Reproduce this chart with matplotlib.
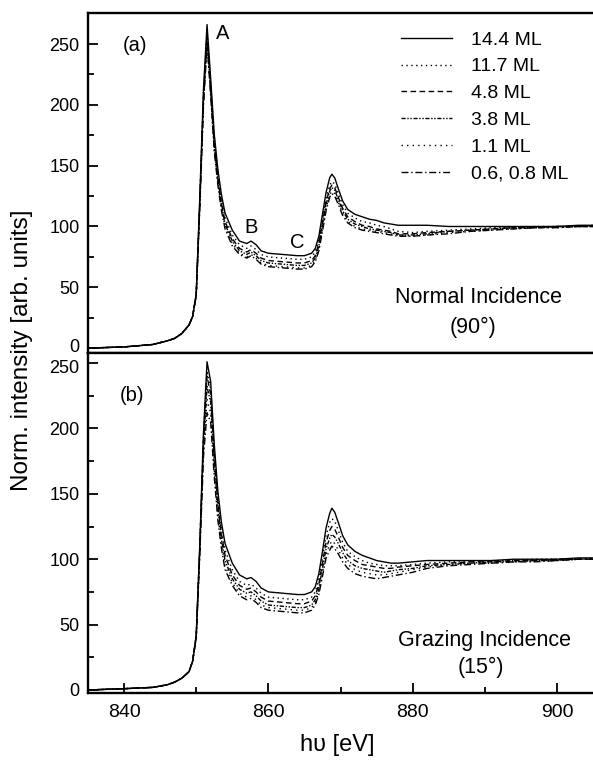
import matplotlib
matplotlib.use("Agg")
import matplotlib.pyplot as plt
from matplotlib.transforms import ScaledTranslation

plt.rcParams["font.family"] = ["Liberation Sans", "DejaVu Sans"]

# photon energy grid [eV]
energy = [835, 840, 844, 846, 847, 848, 849, 849.5, 850, 850.5,
          851, 851.5, 852, 852.5, 853, 853.5, 854, 855, 856, 857,
          857.6, 858.3, 859, 860, 862, 864, 865, 866, 866.5, 867,
          867.5, 868, 868.5, 868.8, 869.2, 869.7, 870.3, 871, 872, 873,
          874, 875, 876, 877, 878, 880, 882, 885, 888, 891,
          894, 897, 900, 903, 905]

labels = ["14.4 ML", "11.7 ML", "4.8 ML", "3.8 ML", "1.1 ML", "0.6, 0.8 ML"]

# (a) normal incidence
a_144 = [0, 1, 3, 6, 8, 12, 19, 26, 45, 125, 212, 266, 222, 176, 147, 126, 111, 97, 88, 86,
         88, 85, 80, 78, 77, 76, 76, 78, 82, 92, 110, 128, 140, 143, 140, 131, 121, 114, 110, 108,
         106, 105, 103, 102, 101, 101, 101, 100, 100, 100, 100, 100, 100, 101, 101]
a_117 = [0, 1, 3, 6, 8, 12, 19, 26, 44, 122, 208, 260, 218, 172, 143, 122, 107, 93, 85, 82,
         84, 81, 77, 75, 74, 73, 73, 75, 79, 89, 106, 123, 134, 137, 135, 127, 118, 111, 107, 104,
         103, 101, 100, 98, 96, 95, 96, 97, 98, 99, 99, 100, 100, 100, 101]
a_48 = [0, 1, 3, 6, 8, 12, 19, 26, 44, 120, 205, 257, 214, 168, 140, 119, 104, 90, 82, 79,
        81, 78, 74, 72, 71, 70, 70, 72, 76, 86, 103, 120, 131, 134, 132, 124, 115, 108, 104, 101,
        100, 98, 97, 96, 94, 94, 95, 96, 97, 98, 99, 99, 100, 100, 100]
a_38 = [0, 1, 3, 6, 8, 12, 19, 26, 43, 118, 203, 255, 212, 166, 138, 117, 102, 88, 80, 77,
        79, 76, 72, 70, 69, 68, 68, 70, 74, 84, 101, 118, 129, 132, 130, 122, 113, 106, 102, 100,
        98, 97, 96, 95, 93, 93, 94, 96, 97, 98, 99, 99, 100, 100, 100]
a_11 = [0, 1, 3, 6, 8, 12, 19, 26, 43, 117, 200, 252, 210, 164, 136, 115, 100, 86, 78, 75,
        77, 74, 70, 68, 67, 66, 66, 68, 72, 82, 98, 115, 126, 129, 127, 120, 111, 104, 100, 98,
        97, 96, 95, 94, 93, 92, 93, 95, 96, 97, 98, 99, 99, 100, 100]
a_06 = [0, 1, 3, 6, 8, 12, 19, 26, 43, 116, 198, 250, 208, 162, 134, 113, 98, 84, 77, 74,
        76, 73, 69, 67, 66, 65, 65, 67, 71, 80, 96, 113, 124, 127, 125, 118, 109, 103, 99, 97,
        96, 95, 94, 93, 92, 92, 93, 94, 96, 97, 98, 99, 99, 100, 100]

# (b) grazing incidence
b_144 = [0, 1, 2, 4, 6, 9, 14, 22, 42, 112, 196, 251, 236, 188, 152, 128, 112, 97, 88, 85,
         86, 83, 78, 75, 74, 73, 73, 75, 79, 89, 106, 124, 135, 139, 136, 128, 118, 111, 106, 103,
         101, 99, 98, 97, 97, 98, 99, 99, 99, 99, 100, 100, 100, 101, 101]
b_117 = [0, 1, 2, 4, 6, 9, 14, 22, 41, 110, 193, 244, 230, 183, 147, 123, 107, 92, 83, 80,
         81, 78, 74, 71, 70, 69, 69, 71, 75, 85, 101, 118, 128, 131, 129, 122, 113, 106, 102, 99,
         97, 96, 95, 95, 95, 96, 97, 98, 98, 99, 99, 100, 100, 100, 101]
b_48 = [0, 1, 2, 4, 6, 9, 14, 22, 41, 109, 190, 240, 226, 179, 143, 119, 103, 88, 80, 77,
        78, 75, 71, 68, 67, 66, 66, 68, 72, 81, 97, 113, 122, 125, 123, 117, 109, 103, 99, 96,
        95, 94, 93, 93, 94, 95, 96, 97, 98, 98, 99, 99, 100, 100, 100]
b_38 = [0, 1, 2, 4, 6, 9, 14, 22, 40, 107, 186, 232, 220, 174, 139, 115, 99, 85, 77, 74,
        75, 72, 68, 65, 64, 63, 63, 65, 69, 78, 93, 108, 116, 119, 117, 112, 105, 99, 95, 93,
        92, 91, 90, 91, 92, 93, 95, 96, 97, 98, 98, 99, 99, 100, 100]
b_11 = [0, 1, 2, 4, 6, 9, 14, 22, 40, 105, 182, 222, 212, 168, 134, 111, 95, 82, 74, 71,
        72, 69, 65, 63, 62, 61, 61, 63, 67, 75, 90, 104, 111, 114, 112, 107, 101, 96, 92, 90,
        89, 88, 88, 89, 90, 92, 94, 96, 97, 97, 98, 99, 99, 100, 100]
b_06 = [0, 1, 2, 4, 6, 9, 14, 22, 40, 104, 178, 212, 205, 163, 130, 108, 92, 80, 72, 69,
        70, 67, 63, 61, 60, 59, 59, 61, 65, 73, 87, 101, 107, 110, 108, 104, 98, 93, 89, 87,
        86, 85, 86, 87, 88, 90, 93, 95, 96, 97, 98, 98, 99, 100, 100]

styles = ["-", (0, (1, 2.5)), (0, (4, 2.5)), (0, (3, 1.2, 1, 1.2, 1, 1.2)),
          (0, (1, 3)), (0, (5, 2, 1, 2))]

W, H = 593, 765
fig = plt.figure(figsize=(W / 100, H / 100), dpi=100)
left, right = 88 / W, 1.0
ax_a = fig.add_axes([left, 1 - 353 / H, right - left, 340 / H])
ax_b = fig.add_axes([left, 1 - 693 / H, right - left, 340 / H])

for ax, series in ((ax_a, [a_144, a_117, a_48, a_38, a_11, a_06]),
                   (ax_b, [b_144, b_117, b_48, b_38, b_11, b_06])):
    for y, ls, lab in zip(series, styles, labels):
        ax.plot(energy, y, color="black", linestyle=ls, linewidth=1.0, label=lab)
    ax.set_xlim(835, 905)
    for s in ax.spines.values():
        s.set_linewidth(1.7)
    ax.spines["right"].set_visible(False)
    ax.set_yticks([0, 50, 100, 150, 200, 250])
    ax.set_yticks(range(25, 275, 50), minor=True)
    ax.set_xticks([840, 860, 880, 900])
    ax.set_xticks([850, 870, 890], minor=True)
    ax.tick_params(which="both", direction="in", width=1.3, top=False, right=False)
    ax.tick_params(axis="y", labelsize=13, pad=6)
    ax.tick_params(axis="x", labelsize=14, pad=8)
    ax.tick_params(which="major", length=7)
    ax.tick_params(which="minor", length=4)

ax_a.set_ylim(-4, 275.5)
ax_b.set_ylim(-2.3, 257.7)
ax_a.tick_params(axis="x", which="both", bottom=False, labelbottom=False)

# the "0" of (a) and the "250" of (b) sit almost on top of each other: nudge apart
lab0 = ax_a.yaxis.get_major_ticks()[0].label1
lab0.set_transform(lab0.get_transform() + ScaledTranslation(0, 3 / 100, fig.dpi_scale_trans))
lab250 = ax_b.yaxis.get_major_ticks()[-1].label1
lab250.set_transform(lab250.get_transform() + ScaledTranslation(0, -3 / 100, fig.dpi_scale_trans))

ann = dict(fontsize=14.5, ha="center", va="center")
ax_a.text(841.5, 249, "(a)", **ann)
ax_a.text(853.6, 259, "A", **ann)
ax_a.text(857.6, 99, "B", **ann)
ax_a.text(864.0, 87, "C", **ann)
ax_a.text(889.1, 42, "Normal Incidence", fontsize=15.5, ha="center", va="center")
ax_a.text(888.4, 17, "(90°)", fontsize=15.5, ha="center", va="center")

ax_b.text(841.1, 225, "(b)", **ann)
ax_b.text(890.0, 38, "Grazing Incidence", fontsize=15.5, ha="center", va="center")
ax_b.text(889.5, 17.5, "(15°)", fontsize=15.5, ha="center", va="center")

ax_a.legend(loc="upper left", bbox_to_anchor=(401 / W, 1 - 31 / H),
            bbox_transform=fig.transFigure, frameon=False, fontsize=14,
            handlelength=2.6, handletextpad=1.0, labelspacing=0.47, borderpad=0,
            borderaxespad=0)

fig.text(22 / W, 1 - 350 / H, "Norm. intensity [arb. units]", rotation=90,
         fontsize=17.5, ha="center", va="center")
fig.text(337 / W, 1 - 745 / H, "h\u03c5 [eV]", fontsize=17, ha="center", va="center")

fig.savefig("out.png", dpi=100)
